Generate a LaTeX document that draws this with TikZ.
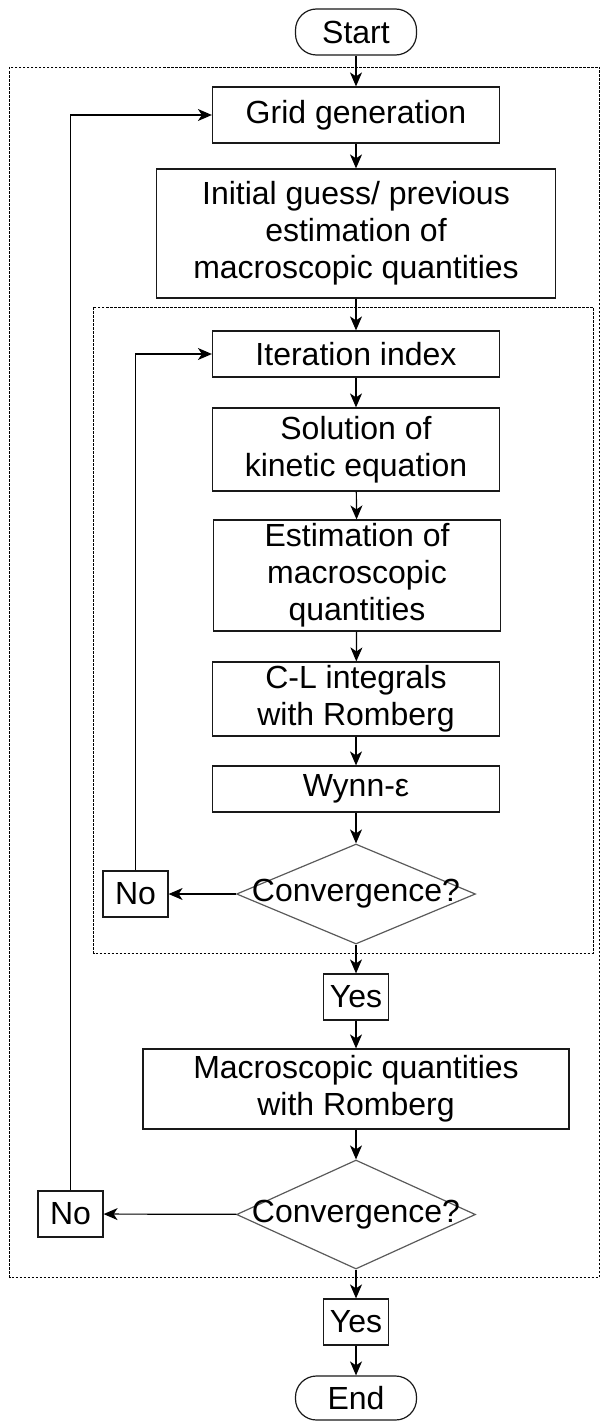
\documentclass[tikz,border=0pt]{standalone}
\usepackage{fontspec}
\setmainfont{Liberation Sans}
\usepackage{tikz}
\usetikzlibrary{arrows.meta,shapes.geometric}
\definecolor{dgc}{RGB}{90,90,90}

\begin{document}
\begin{tikzpicture}[x=1pt,y=-1pt,
  box/.style={draw=black!90,line width=1.2pt,align=center,inner sep=0pt,font=\fontsize{32}{37}\selectfont},
  term/.style={box,rounded corners=21pt,minimum width=121,minimum height=46},
  tag/.style={box,minimum width=65,minimum height=46},
  dec/.style={diamond,draw=dgc,line width=1.2pt,inner sep=0pt,minimum width=239,font=\fontsize{32}{37}\selectfont},
  grp/.style={line width=0.9pt,dash pattern=on 2.5pt off 1.5pt},
  arr/.style={line width=1.2pt,-{Stealth[length=14pt,width=12pt,inset=4pt]}}]
  \useasboundingbox (0,0) rectangle (601,1421);
  % groups
  \draw[grp] (9.5,67) rectangle (599.5,1277);
  \draw[grp] (93.5,307) rectangle (593,953);
  % outer loop
  \node[term] (start) at (356,32) {Start};
  \node[box,minimum width=287,minimum height=56] (grid) at (356,115) {Grid generation};
  \node[box,minimum width=399,minimum height=129] (guess) at (356,233.5) {Initial guess/ previous\\estimation of\\macroscopic quantities};
  % inner loop
  \node[box,minimum width=287,minimum height=46] (iter) at (356,354) {Iteration index};
  \node[box,minimum width=287,minimum height=83] (sol) at (356,449.5) {Solution of\\kinetic equation};
  \node[box,minimum width=287,minimum height=111] (est) at (357,575.5) {Estimation of\\macroscopic\\quantities};
  \node[box,minimum width=287,minimum height=74] (cl) at (356,699) {C-L integrals\\with Romberg};
  \node[box,minimum width=287,minimum height=46] (wynn) at (356,789) {Wynn-ε};
  \node[dec,minimum height=100] (conv1) at (356,894) {\makebox[0pt]{Convergence?}};
  \node[tag] (no1) at (135.5,894) {No};
  \node[tag] (yes1) at (356,997) {Yes};
  \node[box,minimum width=426,minimum height=80] (macro) at (356,1089) {Macroscopic quantities\\with Romberg};
  \node[dec,minimum height=109] (conv2) at (356,1214.5) {\makebox[0pt]{Convergence?}};
  \node[tag] (no2) at (70.5,1214) {No};
  \node[tag] (yes2) at (356,1322) {Yes};
  \node[term,minimum height=44] (end) at (356,1398) {End};
  % connectors
  \draw[arr] (start) -- (grid);
  \draw[arr] (grid) -- (guess);
  \draw[arr] (guess) -- (iter);
  \draw[arr] (iter) -- (sol);
  \draw[arr] (sol) -- (est);
  \draw[arr] (est) -- (cl);
  \draw[arr] (cl) -- (wynn);
  \draw[arr] (wynn) -- (conv1);
  \draw[arr] (conv1) -- (no1);
  \draw[arr] (no1.north) |- (iter.west);
  \draw[arr] (conv1) -- (yes1);
  \draw[arr] (yes1) -- (macro);
  \draw[arr] (macro) -- (conv2);
  \draw[arr] (conv2) -- (no2);
  \draw[arr] (no2.north) |- (grid.west);
  \draw[arr] (conv2) -- (yes2);
  \draw[arr] (yes2) -- (end);
\end{tikzpicture}
\end{document}
